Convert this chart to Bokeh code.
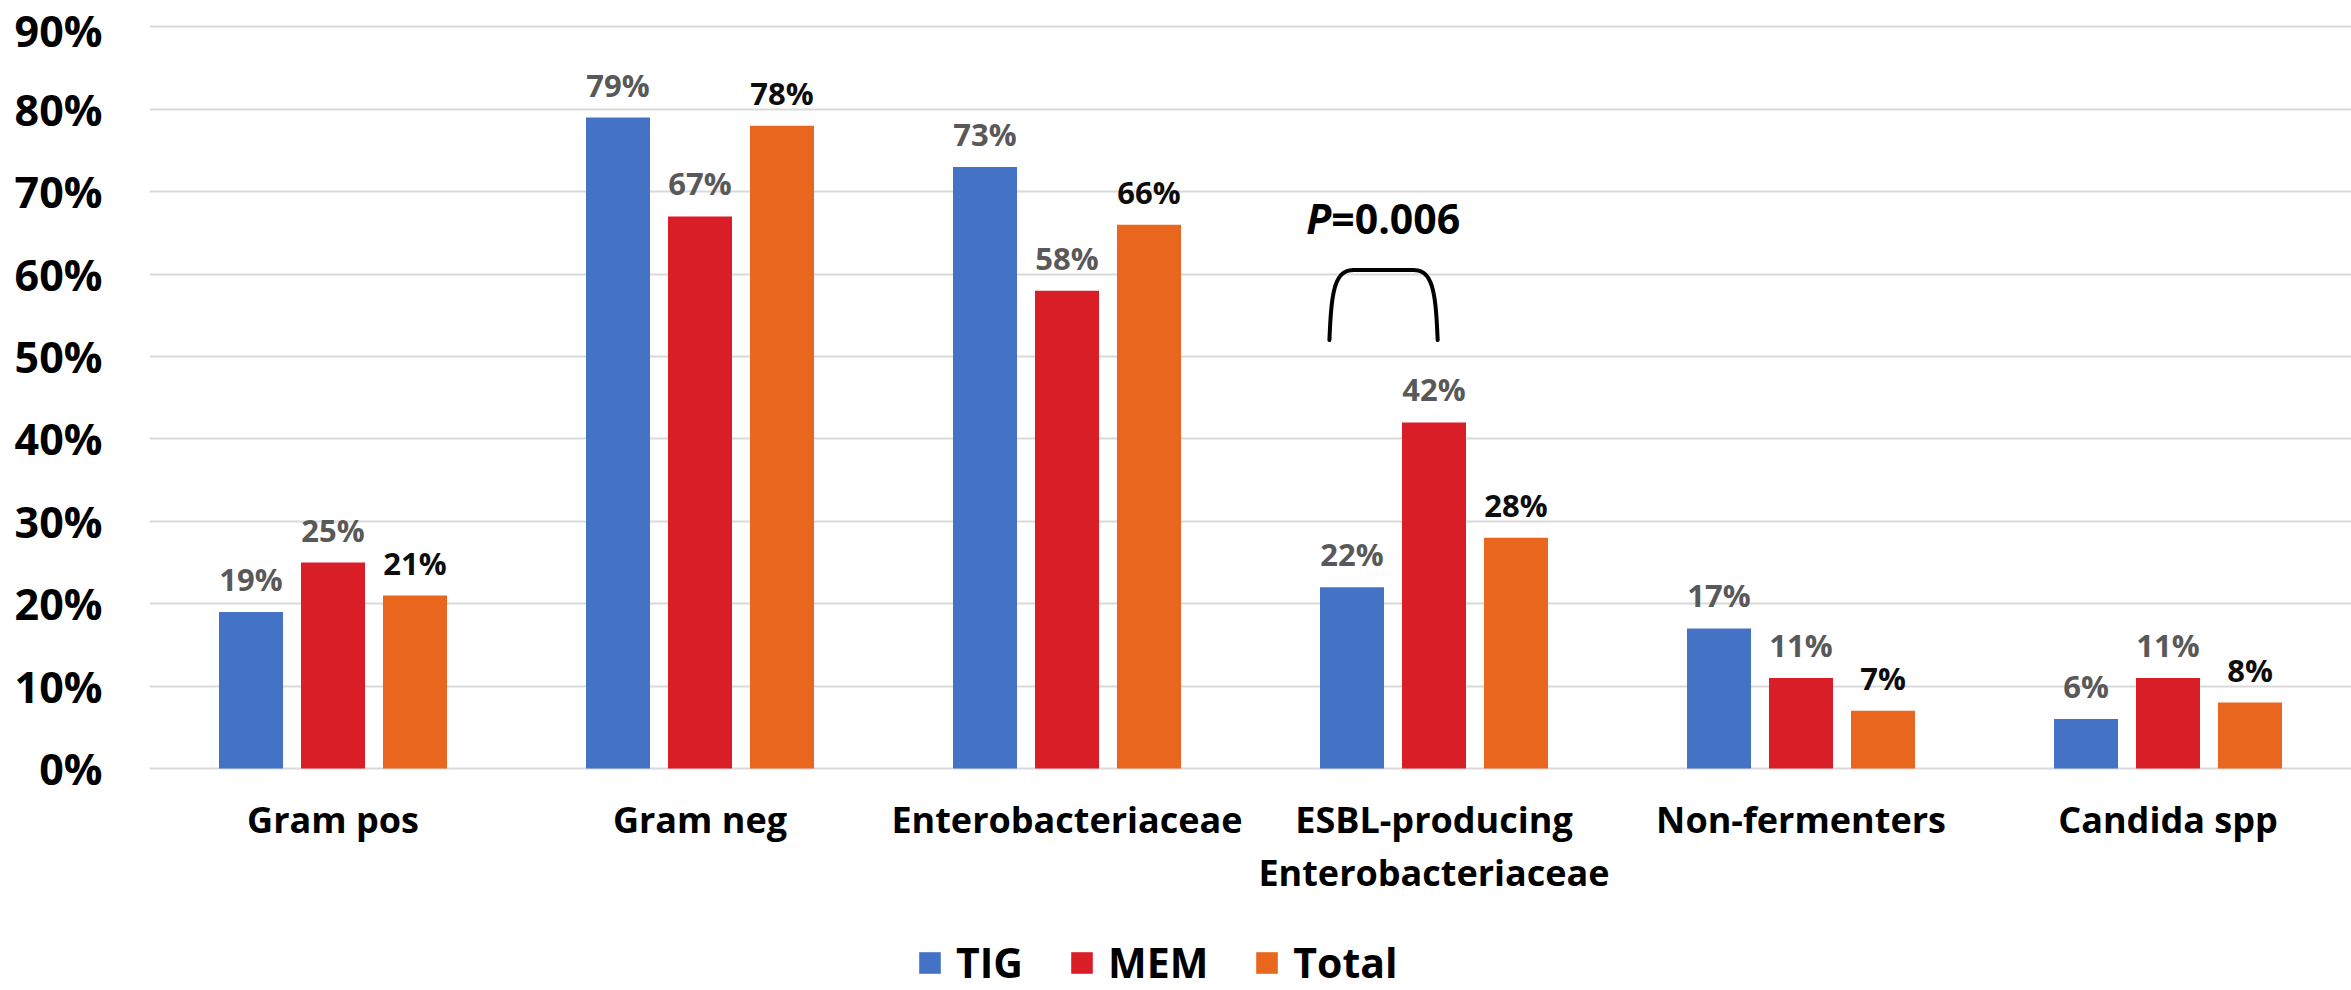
import numpy as np
from bokeh.plotting import figure
from bokeh.models import Range1d, FixedTicker, PrintfTickFormatter, Legend, LegendItem
from bokeh.core.properties import value
from bokeh.embed import file_html
from bokeh.resources import INLINE

# ---- data -------------------------------------------------------------
categories = [
    "Gram pos",
    "Gram neg",
    "Enterobacteriaceae",
    "ESBL-producing\nEnterobacteriaceae",
    "Non-fermenters",
    "Candida spp",
]
series_names = ["TIG", "MEM", "Total"]
tig = [19, 79, 73, 22, 17, 6]
mem = [25, 67, 58, 42, 11, 11]
total = [21, 78, 66, 28, 7, 8]
y_ticks = [0, 10, 20, 30, 40, 50, 60, 70, 80, 90]

# significance bracket between TIG and MEM for the ESBL group
p_label_italic = "P"
p_label_rest = "=0.006"
bracket_group = 3

# ---- style ------------------------------------------------------------
FONT = "Open Sans"
bar_colors = ["#4472C4", "#DA1E28", "#E9661E"]
label_colors = ["#595959", "#595959", "#0D0D0D"]
offsets = [-0.2234, 0.0, 0.2234]
bar_width = 0.1744

# the frame reaches the bottom of the canvas so that the category names
# and the legend can live inside it, beneath the zero line
p = figure(
    width=2351, height=990,
    output_backend="svg", toolbar_location=None,
    x_range=Range1d(-0.5, 5.5), y_range=Range1d(-26.94, 92),
    min_border_left=149, min_border_right=0,
    min_border_top=10, min_border_bottom=0,
)
p.outline_line_color = None
p.background_fill_color = "white"
p.border_fill_color = "white"

x_pos = np.arange(len(categories))
renderers = []
for vals, off, col, lcol in zip([tig, mem, total], offsets, bar_colors, label_colors):
    xs = x_pos + off
    r = p.vbar(x=xs, top=vals, bottom=0, width=bar_width, fill_color=col, line_color=None)
    renderers.append(r)
    p.text(
        x=xs, y=vals, text=[f"{v}%" for v in vals],
        text_align="center", text_baseline="alphabetic", y_offset=-33,
        text_font=value(FONT), text_font_style="bold", text_font_size="31px",
        text_color=lcol,
    )

# category names under the zero line
p.text(
    x=x_pos, y=[0] * len(categories), text=categories,
    text_align="center", text_baseline="top", y_offset=26,
    text_font=value(FONT), text_font_style="bold", text_font_size="36px",
    text_color="black", text_line_height=1.1,
)

# ---- bracket ----------------------------------------------------------
px_x = 1.0 / 367.0   # data units per screen pixel along x
px_y = 118.94 / 980.0  # data units per screen pixel along y
b_left = bracket_group - 0.285
b_right = bracket_group + 0.01
b_bottom = 52.0
b_top = 60.5


def cubic(p0, p1, p2, p3, n=30):
    t = np.linspace(0, 1, n)[:, None]
    pts = ((1 - t) ** 3) * p0 + 3 * ((1 - t) ** 2) * t * p1 + 3 * (1 - t) * t ** 2 * p2 + t ** 3 * p3
    return pts[:, 0], pts[:, 1]


lx, ly = cubic(np.array([b_left, b_bottom]),
               np.array([b_left + 2 * px_x, b_bottom + 45 * px_y]),
               np.array([b_left + 4 * px_x, b_top]),
               np.array([b_left + 24 * px_x, b_top]))
rx, ry = cubic(np.array([b_right - 24 * px_x, b_top]),
               np.array([b_right - 4 * px_x, b_top]),
               np.array([b_right - 2 * px_x, b_bottom + 45 * px_y]),
               np.array([b_right, b_bottom]))
p.line(x=np.concatenate([lx, rx]), y=np.concatenate([ly, ry]),
       line_color="black", line_width=4, line_cap="round", line_join="round")

p_y = 65.0
p_x = bracket_group - 0.28
p.text(x=[p_x], y=[p_y], text=[p_label_italic], text_align="right", text_baseline="alphabetic",
       y_offset=-15, text_font=value(FONT), text_font_style="bold italic",
       text_font_size="41px", text_color="black")
p.text(x=[p_x], y=[p_y], text=[p_label_rest], text_align="left", text_baseline="alphabetic",
       y_offset=-15, text_font=value(FONT), text_font_style="bold",
       text_font_size="41px", text_color="black")

# ---- axes & grid ------------------------------------------------------
p.yaxis.ticker = FixedTicker(ticks=y_ticks)
p.yaxis.formatter = PrintfTickFormatter(format="%d%%")
p.yaxis.axis_line_color = None
p.yaxis.major_tick_line_color = None
p.yaxis.minor_tick_line_color = None
p.yaxis.major_tick_out = 0
p.yaxis.major_label_standoff = 47
p.yaxis.major_label_text_font = FONT
p.yaxis.major_label_text_font_style = "bold"
p.yaxis.major_label_text_font_size = "43px"
p.yaxis.major_label_text_color = "black"

p.xaxis.visible = False

p.xgrid.grid_line_color = None
p.ygrid.ticker = FixedTicker(ticks=y_ticks)
p.ygrid.grid_line_color = "#D9D9D9"
p.ygrid.grid_line_width = 2

# ---- legend -----------------------------------------------------------
legend = Legend(
    items=[LegendItem(label=n, renderers=[r]) for n, r in zip(series_names, renderers)],
    orientation="horizontal",
    location=(767, 0),
    glyph_width=27, glyph_height=27,
    label_standoff=13, spacing=45, padding=0, margin=0,
    border_line_color=None, background_fill_alpha=0,
    label_text_font=FONT, label_text_font_style="bold",
    label_text_font_size="41px", label_text_color="black",
)
p.add_layout(legend)

open("out.html", "w").write(file_html(p, INLINE))
